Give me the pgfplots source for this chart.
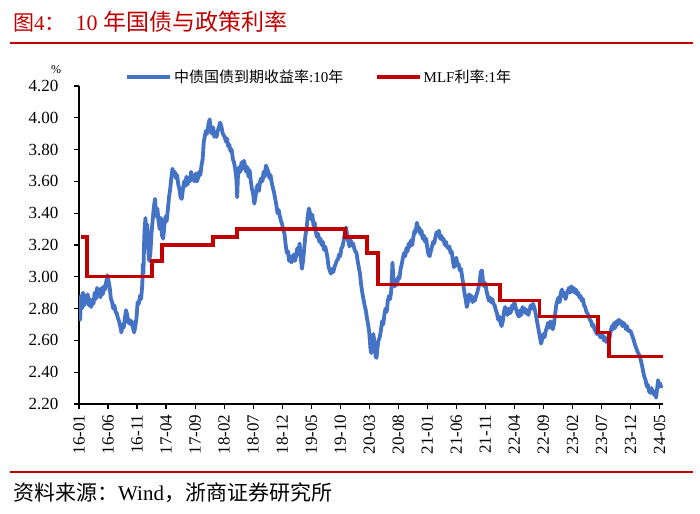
\documentclass[border=0pt]{standalone}
\usepackage{fontspec}
\setmainfont{Liberation Serif}
\newfontfamily\cjk{Noto Sans CJK SC}
\usepackage{pgfplots}
\pgfplotsset{compat=1.18}
\definecolor{bondblue}{RGB}{68,114,196}
\definecolor{mlfred}{RGB}{192,0,0}

\begin{document}
\begin{tikzpicture}
\path[use as bounding box] (0pt,0pt) rectangle (700pt,513pt);

% title and rules
\node[anchor=west, text=mlfred, inner sep=0pt, font=\fontsize{21}{24}\selectfont]
  at (13pt,491pt) {{\cjk 图}4{\cjk ：}\hspace{10pt}{\fontsize{22}{24}\selectfont 10 {\cjk\fontsize{23}{24}\selectfont 年国债与政策利率}}};
\draw[mlfred, line width=1.4pt] (10pt,470pt) -- (693pt,470pt);
\draw[mlfred, line width=1.4pt] (10pt,41pt) -- (693pt,41pt);
\node[anchor=west, inner sep=0pt, font=\fontsize{21}{23}\selectfont]
  at (13pt,20pt) {{\cjk 资料来源：}Wind{\cjk ，浙商证券研究所}};
\node[inner sep=0pt, font=\fontsize{12}{14}\selectfont] at (56pt,443pt) {\%};

\begin{axis}[
    at={(79pt,109pt)}, anchor=south west,
    scale only axis, width=584pt, height=318pt,
    xmin=0, xmax=100.6, ymin=2.2, ymax=4.2,
    axis x line*=bottom, axis y line*=left,
    x axis line style={-}, y axis line style={-},
    axis line style={black, line width=1.2pt},
    tick style={black, line width=1.2pt},
    tick align=outside, major tick length=5pt,
    xtick={0,5,...,100},
    xticklabels={16-01,16-06,16-11,17-04,17-09,18-02,18-07,18-12,19-05,19-10,20-03,20-08,21-01,21-06,21-11,22-04,22-09,23-02,23-07,23-12,24-05},
    ytick={2.2,2.4,...,4.2},
    tick label style={font=\fontsize{17}{17}\selectfont},
    xticklabel style={rotate=90, anchor=east, xshift=-2pt},
    yticklabel style={xshift=-12pt, /pgf/number format/fixed, /pgf/number format/fixed zerofill,
        /pgf/number format/precision=2, /pgf/number format/assume math mode=true},
    legend columns=2,
    legend style={at={(0.079,1.028)}, anchor=west, draw=none, fill=none,
        inner sep=0pt, font=\fontsize{15}{18}\selectfont},
    legend cell align=left,
    legend image code/.code={\draw[#1] (0pt,0pt) -- (43pt,0pt);},
    /tikz/every even column/.append style={column sep=30pt},
]

\addplot[bondblue, line width=3.8pt, line join=round] coordinates {
(0.0,2.85)(0.2,2.73)(0.35,2.88)(0.5,2.80)(0.7,2.90)(0.9,2.82)(1.1,2.88)(1.3,2.84)(1.5,2.89)(1.7,2.82)
(1.9,2.86)(2.1,2.81)(2.3,2.85)(2.5,2.83)(2.7,2.90)(2.9,2.86)(3.1,2.93)(3.3,2.88)(3.5,2.92)(3.7,2.87)
(3.9,2.93)(4.1,2.89)(4.3,2.94)(4.5,2.92)(4.7,2.97)(4.9,3.01)(5.1,2.97)(5.3,2.93)(5.5,2.86)(5.7,2.84)
(5.9,2.80)(6.1,2.82)(6.3,2.78)(6.5,2.77)(6.7,2.74)(6.9,2.72)(7.1,2.69)(7.3,2.65)(7.5,2.70)(7.7,2.68)
(7.9,2.74)(8.1,2.79)(8.3,2.76)(8.5,2.71)(8.7,2.73)(8.9,2.70)(9.1,2.72)(9.3,2.68)(9.5,2.65)(9.7,2.69)
(9.9,2.74)(10.1,2.84)(10.3,2.83)(10.5,2.88)(10.7,2.86)(10.9,2.95)(11.0,3.08)(11.1,3.02)(11.2,3.20)(11.3,3.30)
(11.45,3.37)(11.6,3.24)(11.75,3.33)(11.9,3.18)(12.1,3.10)(12.3,3.15)(12.5,3.28)(12.7,3.36)(12.9,3.44)(13.1,3.49)
(13.3,3.38)(13.5,3.43)(13.7,3.35)(13.9,3.30)(14.1,3.37)(14.3,3.26)(14.5,3.24)(14.7,3.32)(14.9,3.38)(15.1,3.35)
(15.3,3.42)(15.5,3.50)(15.7,3.55)(15.9,3.62)(16.1,3.68)(16.3,3.65)(16.5,3.66)(16.7,3.62)(16.9,3.64)(17.1,3.58)
(17.3,3.55)(17.5,3.50)(17.7,3.49)(17.9,3.55)(18.1,3.60)(18.3,3.57)(18.5,3.63)(18.7,3.58)(18.9,3.62)(19.1,3.60)
(19.3,3.66)(19.5,3.61)(19.7,3.63)(19.9,3.60)(20.1,3.65)(20.3,3.60)(20.5,3.62)(20.7,3.66)(20.9,3.64)(21.1,3.70)
(21.3,3.74)(21.5,3.85)(21.7,3.89)(21.9,3.92)(22.1,3.90)(22.3,3.96)(22.5,3.99)(22.7,3.93)(22.9,3.90)(23.1,3.94)
(23.3,3.88)(23.5,3.90)(23.7,3.88)(23.9,3.92)(24.1,3.94)(24.3,3.97)(24.5,3.95)(24.7,3.91)(24.9,3.89)(25.1,3.88)
(25.3,3.85)(25.5,3.87)(25.7,3.82)(25.9,3.83)(26.1,3.79)(26.3,3.80)(26.5,3.74)(26.7,3.72)(26.9,3.68)(27.1,3.62)
(27.25,3.50)(27.4,3.66)(27.6,3.69)(27.8,3.66)(28.0,3.72)(28.2,3.68)(28.4,3.73)(28.6,3.70)(28.8,3.66)(29.0,3.69)
(29.2,3.63)(29.4,3.67)(29.6,3.60)(29.8,3.55)(30.0,3.52)(30.2,3.46)(30.4,3.50)(30.6,3.56)(30.8,3.58)(31.0,3.54)
(31.2,3.60)(31.4,3.62)(31.6,3.60)(31.8,3.66)(32.0,3.63)(32.2,3.70)(32.4,3.68)(32.6,3.66)(32.8,3.62)(33.0,3.64)
(33.2,3.59)(33.4,3.56)(33.6,3.53)(33.8,3.49)(34.0,3.45)(34.2,3.40)(34.4,3.42)(34.6,3.38)(34.8,3.35)(35.0,3.33)
(35.2,3.29)(35.4,3.27)(35.6,3.20)(35.8,3.15)(36.0,3.16)(36.2,3.10)(36.4,3.13)(36.6,3.09)(36.8,3.12)(37.0,3.14)
(37.2,3.10)(37.4,3.13)(37.6,3.18)(37.8,3.14)(38.0,3.21)(38.2,3.12)(38.4,3.05)(38.6,3.10)(38.8,3.18)(39.0,3.26)
(39.2,3.30)(39.4,3.38)(39.6,3.43)(39.8,3.40)(40.0,3.36)(40.2,3.39)(40.4,3.32)(40.6,3.34)(40.8,3.28)(41.0,3.25)
(41.2,3.27)(41.4,3.22)(41.6,3.24)(41.8,3.20)(42.0,3.22)(42.2,3.17)(42.4,3.19)(42.6,3.16)(42.8,3.12)(43.0,3.06)
(43.2,3.04)(43.4,3.02)(43.6,3.05)(43.8,3.03)(44.0,3.06)(44.2,3.08)(44.4,3.10)(44.6,3.11)(44.8,3.14)(45.0,3.13)
(45.2,3.18)(45.4,3.19)(45.6,3.23)(45.8,3.27)(46.0,3.31)(46.2,3.26)(46.4,3.22)(46.6,3.19)(46.8,3.23)(47.0,3.20)
(47.2,3.21)(47.4,3.18)(47.6,3.16)(47.8,3.15)(48.0,3.10)(48.2,3.06)(48.4,3.02)(48.6,2.95)(48.8,2.90)(49.0,2.86)
(49.2,2.82)(49.4,2.79)(49.6,2.74)(49.8,2.70)(50.0,2.65)(50.2,2.55)(50.35,2.52)(50.5,2.60)(50.7,2.64)(50.9,2.58)
(51.1,2.50)(51.25,2.49)(51.4,2.55)(51.6,2.60)(51.8,2.62)(52.0,2.66)(52.2,2.72)(52.4,2.70)(52.6,2.76)(52.8,2.80)
(53.0,2.78)(53.2,2.85)(53.4,2.88)(53.6,2.86)(53.8,2.92)(54.0,3.09)(54.2,2.96)(54.4,2.94)(54.6,2.98)(54.8,2.95)
(55.0,3.00)(55.2,2.99)(55.4,3.05)(55.6,3.08)(55.8,3.12)(56.0,3.15)(56.2,3.13)(56.4,3.18)(56.6,3.16)(56.8,3.21)
(57.0,3.19)(57.2,3.23)(57.4,3.20)(57.6,3.25)(57.8,3.29)(58.0,3.28)(58.2,3.34)(58.4,3.30)(58.6,3.31)(58.8,3.27)
(59.0,3.29)(59.2,3.24)(59.4,3.26)(59.6,3.22)(59.8,3.24)(60.0,3.18)(60.2,3.14)(60.4,3.13)(60.6,3.16)(60.8,3.19)
(61.0,3.22)(61.2,3.21)(61.4,3.25)(61.6,3.28)(61.8,3.26)(62.0,3.29)(62.2,3.24)(62.4,3.26)(62.6,3.23)(62.8,3.24)
(63.0,3.20)(63.2,3.22)(63.4,3.19)(63.6,3.18)(63.8,3.19)(64.0,3.15)(64.2,3.16)(64.4,3.10)(64.6,3.06)(64.8,3.10)
(65.0,3.12)(65.2,3.07)(65.4,3.08)(65.6,3.04)(65.8,3.05)(66.0,3.00)(66.2,2.95)(66.4,2.90)(66.6,2.86)(66.8,2.81)
(67.0,2.84)(67.2,2.89)(67.4,2.86)(67.6,2.88)(67.8,2.84)(68.0,2.87)(68.2,2.85)(68.4,2.88)(68.6,2.90)(68.8,2.93)
(69.0,2.96)(69.2,3.03)(69.4,3.04)(69.6,2.97)(69.8,2.94)(70.0,2.96)(70.2,2.91)(70.4,2.88)(70.6,2.85)(70.8,2.87)
(71.0,2.84)(71.2,2.86)(71.4,2.83)(71.6,2.82)(71.8,2.79)(72.0,2.77)(72.2,2.73)(72.4,2.75)(72.6,2.71)(72.8,2.69)
(73.0,2.72)(73.2,2.78)(73.4,2.81)(73.6,2.79)(73.8,2.76)(74.0,2.80)(74.2,2.77)(74.4,2.78)(74.6,2.82)(74.8,2.80)
(75.0,2.84)(75.2,2.81)(75.4,2.78)(75.6,2.76)(75.8,2.75)(76.0,2.79)(76.2,2.76)(76.4,2.81)(76.6,2.78)(76.8,2.80)
(77.0,2.77)(77.2,2.79)(77.4,2.76)(77.6,2.79)(77.8,2.82)(78.0,2.80)(78.2,2.83)(78.4,2.81)(78.6,2.78)(78.8,2.74)
(79.0,2.70)(79.2,2.66)(79.4,2.62)(79.6,2.58)(79.8,2.61)(80.0,2.64)(80.2,2.62)(80.4,2.66)(80.6,2.68)(80.8,2.71)
(81.0,2.68)(81.2,2.72)(81.4,2.69)(81.6,2.67)(81.8,2.70)(82.0,2.76)(82.2,2.82)(82.4,2.85)(82.6,2.87)(82.8,2.84)
(83.0,2.90)(83.2,2.92)(83.4,2.88)(83.6,2.90)(83.8,2.86)(84.0,2.89)(84.2,2.91)(84.4,2.93)(84.6,2.90)(84.8,2.94)
(85.0,2.91)(85.2,2.93)(85.4,2.90)(85.6,2.92)(85.8,2.89)(86.0,2.90)(86.2,2.87)(86.4,2.88)(86.6,2.85)(86.8,2.86)
(87.0,2.82)(87.2,2.81)(87.4,2.78)(87.6,2.77)(87.8,2.75)(88.0,2.73)(88.2,2.72)(88.4,2.69)(88.6,2.70)(88.8,2.67)
(89.0,2.66)(89.2,2.64)(89.4,2.66)(89.6,2.64)(89.8,2.62)(90.0,2.65)(90.2,2.63)(90.4,2.60)(90.6,2.62)(90.8,2.59)
(91.0,2.61)(91.2,2.60)(91.4,2.62)(91.6,2.66)(91.8,2.69)(92.0,2.67)(92.2,2.71)(92.4,2.68)(92.6,2.72)(92.8,2.70)
(93.0,2.73)(93.2,2.71)(93.4,2.72)(93.6,2.69)(93.8,2.71)(94.0,2.70)(94.2,2.67)(94.4,2.69)(94.6,2.66)(95.0,2.66)
(95.4,2.62)(95.8,2.57)(96.2,2.53)(96.6,2.50)(97.0,2.44)(97.2,2.40)(97.4,2.37)(97.6,2.35)(97.8,2.31)(98.0,2.32)
(98.2,2.28)(98.4,2.27)(98.6,2.30)(98.8,2.28)(99.0,2.26)(99.2,2.28)(99.4,2.24)(99.6,2.30)(99.75,2.35)(99.9,2.31)
(100.1,2.33)(100.3,2.30)
};
\addlegendentry{{\cjk 中债国债到期收益率}:10{\cjk 年}}

\addplot[mlfred, line width=3.4pt, line join=miter] coordinates {
(0.4,3.25)(1.4,3.25)(1.4,3.00)(12.6,3.00)(12.6,3.10)(14.3,3.10)(14.3,3.20)(23.1,3.20)
(23.1,3.25)(27.2,3.25)(27.2,3.30)(45.8,3.30)(45.8,3.25)(49.6,3.25)(49.6,3.15)(51.5,3.15)
(51.5,2.95)(72.5,2.95)(72.5,2.85)(79.3,2.85)(79.3,2.75)(89.4,2.75)(89.4,2.65)(91.3,2.65)
(91.3,2.50)(100.6,2.50)
};
\addlegendentry{MLF{\cjk 利率}:1{\cjk 年}}
\end{axis}
\end{tikzpicture}
\end{document}
